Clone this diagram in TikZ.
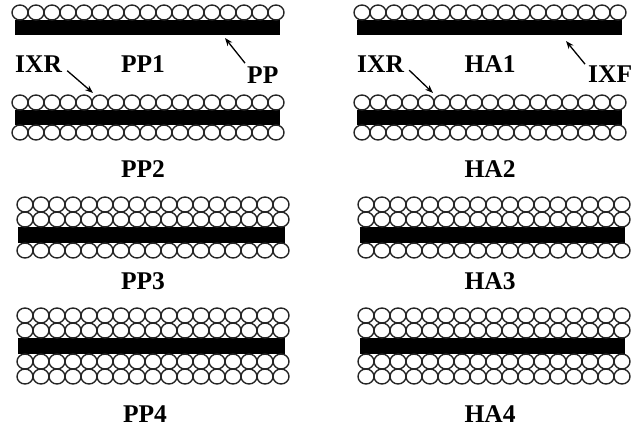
\documentclass[tikz,border=0pt]{standalone}
\usepackage{fontspec}
\setmainfont{Liberation Serif}
\usetikzlibrary{arrows.meta}

\tikzset{
  bead/.style={draw=black!85, line width=1.4pt, fill=white},
  film/.style={fill=black},
  lbl/.style={font=\bfseries\fontsize{25.5}{25.5}\selectfont, inner sep=0pt, anchor=base},
  pointer/.style={-{Stealth[length=8pt,width=6pt]}, line width=1.3pt},
}

% one row of 17 beads: first centre x, centre y
\newcommand\beadrow[2]{%
  \foreach \k in {0,...,16}{\draw[bead] ({#1+16*\k},#2) ellipse [x radius=8pt, y radius=7.5pt];}}
% a black film: left x, right x, top y, bottom y
\newcommand\filmbar[4]{\fill[film] (#1,#3) rectangle (#2,#4);}

\begin{document}
\begin{tikzpicture}[x=1pt,y=-1pt]
\useasboundingbox (0,0) rectangle (644,431);

% ---------- left column: PP ----------
% PP1 film with one bead layer on top
\filmbar{15}{280}{20}{35}
\beadrow{20}{12.5}
% PP2: beads above and below
\filmbar{15}{280}{110}{125}
\beadrow{20}{102.5}
\beadrow{20}{132.5}
% PP3: two layers above, one below
\filmbar{18}{285}{227}{243}
\beadrow{25}{204.5}
\beadrow{25}{219.5}
\beadrow{25}{250.5}
% PP4: two layers on each side
\filmbar{18}{285}{338}{354}
\beadrow{25}{315.5}
\beadrow{25}{330.5}
\beadrow{25}{361.5}
\beadrow{25}{376.5}

\node[lbl, anchor=base west] (ixrL) at (15,72) {IXR};
\node[lbl] (pp1) at (143,72) {PP1};
\node[lbl, anchor=base west] (ppL) at (247,83) {PP};
\node[lbl] (pp2) at (143,177) {PP2};
\node[lbl] (pp3) at (143,289) {PP3};
\node[lbl] (pp4) at (145,422) {PP4};

\coordinate (ixrTipL) at (93,93);
\coordinate (ppTip) at (225,38);
\draw[pointer] ([shift={(5,7)}]ixrL.east) -- (ixrTipL);
\draw[pointer] ([shift={(-2,-3)}]ppL.north west) -- (ppTip);

% ---------- right column: HA ----------
\filmbar{357}{622}{20}{35}
\beadrow{362}{12.5}
\filmbar{357}{622}{110}{125}
\beadrow{362}{102.5}
\beadrow{362}{132.5}
\filmbar{360}{625}{227}{243}
\beadrow{366}{204.5}
\beadrow{366}{219.5}
\beadrow{366}{250.5}
\filmbar{360}{625}{338}{354}
\beadrow{366}{315.5}
\beadrow{366}{330.5}
\beadrow{366}{361.5}
\beadrow{366}{376.5}

\node[lbl, anchor=base west] (ixrR) at (357,72) {IXR};
\node[lbl] (ha1) at (490,72) {HA1};
\node[lbl, anchor=base west] (ixfL) at (588,82) {IXF};
\node[lbl] (ha2) at (490,177) {HA2};
\node[lbl] (ha3) at (490,289) {HA3};
\node[lbl] (ha4) at (490,422) {HA4};

\coordinate (ixrTipR) at (433,93);
\coordinate (ixfTip) at (566,41);
\draw[pointer] ([shift={(5,6.5)}]ixrR.east) -- (ixrTipR);
\draw[pointer] ([shift={(-3,-1)}]ixfL.north west) -- (ixfTip);
\end{tikzpicture}
\end{document}
